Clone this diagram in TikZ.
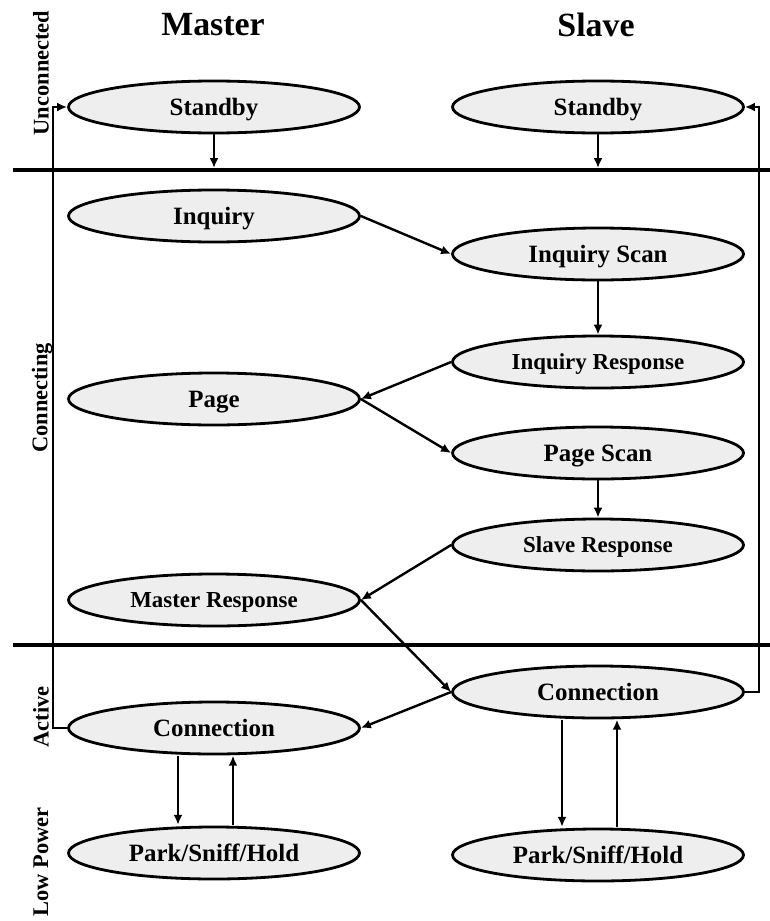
\documentclass[tikz,border=0pt]{standalone}
\usepackage{fontspec}
\setmainfont{Liberation Serif}
\usetikzlibrary{shapes.geometric,arrows.meta,calc}
\definecolor{nodefill}{HTML}{EEEEEE}
\tikzset{
  state/.style={ellipse, draw=black, line width=2.8bp, fill=nodefill,
    minimum width=291bp, minimum height=52bp, inner sep=0pt, text depth=0pt,
    font=\fontsize{25}{28}\selectfont\bfseries},
  smallstate/.style={state, font=\fontsize{23}{26}\selectfont\bfseries},
  arr/.style={line width=2.4bp, -{Latex[length=10bp,width=9bp]}},
  sep/.style={line width=4.5bp},
  title/.style={font=\fontsize{34}{38}\selectfont\bfseries, inner sep=0pt},
  side/.style={rotate=90, font=\fontsize{22.5}{26}\selectfont\bfseries, inner sep=0pt}
}
\begin{document}
\begin{tikzpicture}[x=1bp,y=-1bp]
\useasboundingbox (0,0) rectangle (770,921);

% titles
\node[title] (tmaster) at (213,25) {Master};
\node[title] (tslave) at (596,25) {Slave};

% side labels
\node[side] (lunc) at (41,73) {Unconnected};
\node[side] (lcon) at (42,398) {Connecting};
\node[side] (lact) at (41,717) {Active};
\node[side] (llow) at (41,862) {Low Power};

% separators
\coordinate (s1a) at (13,170);
\coordinate (s1b) at (770,170);
\coordinate (s2a) at (13,645);
\coordinate (s2b) at (770,645);
\draw[sep] (s1a) -- (s1b);
\draw[sep] (s2a) -- (s2b);

% master states
\node[state] (mstand) at (214,107) {Standby};
\node[state] (minq) at (214,216) {Inquiry};
\node[state] (mpage) at (214,399) {Page};
\node[smallstate] (mresp) at (214,600) {Master Response};
\node[state] (mconn) at (214,728) {Connection};
\node[state] (mpark) at (214,853) {Park/Sniff/Hold};

% slave states
\node[state] (sstand) at (598,107) {Standby};
\node[state] (sinqs) at (598,254) {Inquiry Scan};
\node[smallstate] (sinqr) at (598,362) {Inquiry Response};
\node[state] (spages) at (598,453) {Page Scan};
\node[smallstate] (sresp) at (598,545) {Slave Response};
\node[state] (sconn) at (598,692) {Connection};
\node[state] (spark) at (598,855) {Park/Sniff/Hold};

% standby to line
\coordinate (m1) at (214,168);
\coordinate (s1) at (598,168);
\draw[arr] (mstand.south) -- (m1);
\draw[arr] (sstand.south) -- (s1);

% connecting transitions
\draw[arr] (minq.east) -- (sinqs.west);
\draw[arr] (sinqs.south) -- (sinqr.north);
\draw[arr] (sinqr.west) -- (mpage.east);
\draw[arr] (mpage.east) -- (spages.west);
\draw[arr] (spages.south) -- (sresp.north);
\draw[arr] (sresp.west) -- (mresp.east);
\draw[arr] (mresp.east) -- (sconn.west);
\draw[arr] (sconn.west) -- (mconn.east);

% low power transitions
\draw[arr] ([xshift=-36bp,yshift=-0.8bp]mconn.south) -- ([xshift=-36bp,yshift=0.8bp]mpark.north);
\draw[arr] ([xshift=19bp,yshift=0.3bp]mpark.north) -- ([xshift=19bp,yshift=-0.3bp]mconn.south);
\draw[arr] ([xshift=-36bp,yshift=-0.8bp]sconn.south) -- ([xshift=-36bp,yshift=0.8bp]spark.north);
\draw[arr] ([xshift=19bp,yshift=0.3bp]spark.north) -- ([xshift=19bp,yshift=-0.3bp]sconn.south);

% return loops
\coordinate (la) at (53,728);
\coordinate (lb) at (53,107);
\draw[arr] (mconn.west) -- (la) -- (lb) -- (mstand.west);
\coordinate (ra) at (759,692);
\coordinate (rb) at (759,107);
\draw[arr] (sconn.east) -- (ra) -- (rb) -- (sstand.east);
\end{tikzpicture}
\end{document}
